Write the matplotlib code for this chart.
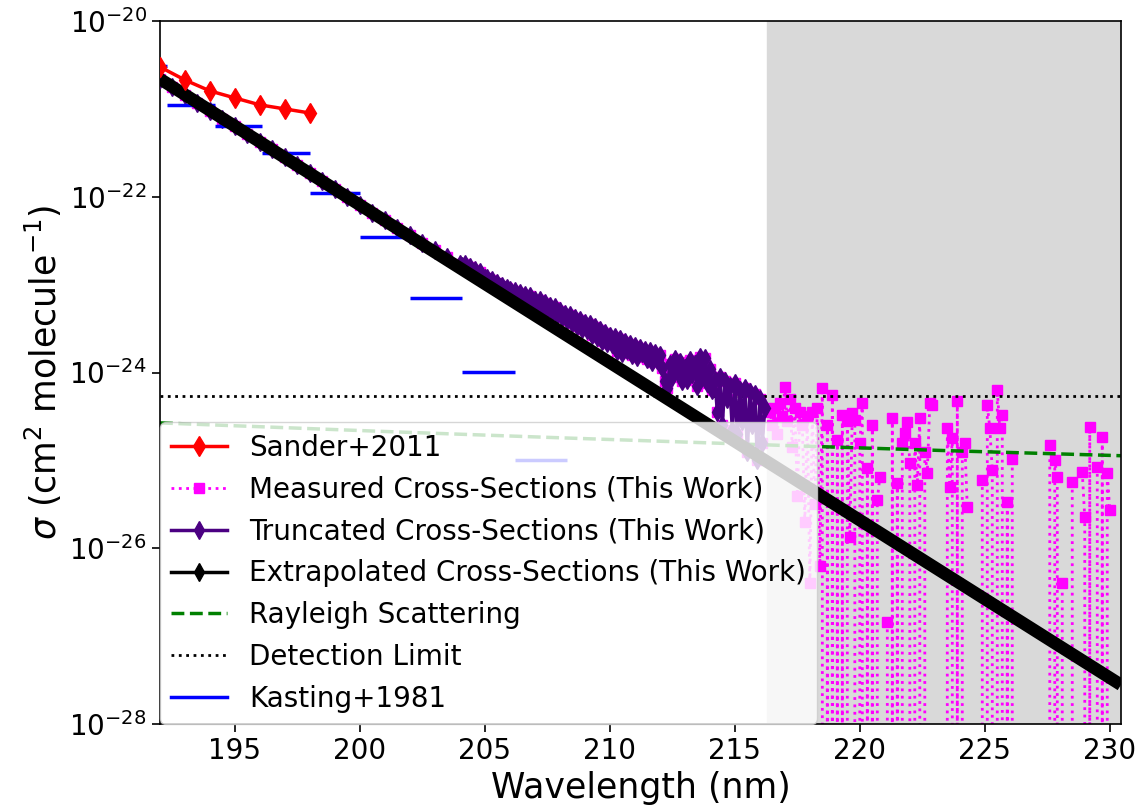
import matplotlib

matplotlib.use("Agg")
import matplotlib.pyplot as plt
import numpy as np
from matplotlib.lines import Line2D

# Sander+2011 recommended values
sander_wl = [192, 193, 194, 195, 196, 197, 198]
sander_val = [3.0e-21, 2.13e-21, 1.6e-21, 1.33e-21, 1.11e-21, 9.98e-22, 8.97e-22]

# Kasting+1981 binned cross-sections (bin edges in nm)
kasting_lo = [190.5, 192.3, 194.2, 196.1, 198.0, 200.0, 202.0, 204.1, 206.2]
kasting_hi = [192.3, 194.2, 196.1, 198.0, 200.0, 202.0, 204.1, 206.2, 208.3]
kasting_val = [3.07e-21, 1.11e-21, 6.38e-22, 3.16e-22, 1.10e-22, 3.49e-23, 7.06e-24, 1.02e-24, 1.01e-25]

# measured cross-sections, log10(sigma); None = non-positive reading, nan = no data
nan = np.nan
meas_wl_a = np.round(np.arange(192.0, 203.51, 0.5), 2)
meas_log_a = [-20.66, -20.75, -20.84, -20.93, -21.02, -21.11, -21.20, -21.29,
              -21.38, -21.46, -21.55, -21.64, -21.73, -21.82, -21.91, -22.00,
              -22.09, -22.18, -22.27, -22.36, -22.44, -22.53, -22.61, -22.69]
meas_wl_b = np.round(np.arange(204.0, 216.21, 0.1), 2)
meas_log_b = [-22.76, -22.79, -22.77, -22.82, -22.80, -22.85, -22.83, -22.88, -22.86, -22.91,
              -22.93, -22.92, -22.97, -22.95, -23.00, -22.98, -23.03, -23.01, -23.06, -23.04,
              -23.06, -23.10, -23.07, -23.13, -23.09, -23.15, -23.12, -23.18, -23.13, -23.20,
              -23.17, -23.22, -23.18, -23.26, -23.21, -23.28, -23.24, -23.31, -23.26, -23.34,
              -23.30, -23.37, -23.33, -23.40, -23.34, -23.44, -23.38, -23.47, -23.40, -23.50,
              -23.44, -23.52, -23.45, -23.57, -23.48, -23.60, -23.52, -23.64, -23.55, -23.66,
              -23.58, -23.68, -23.60, -23.75, -23.62, -23.78, -23.65, -23.74, -23.67, -23.80,
              -23.70, -23.82, -23.72, -23.78, -23.74, -23.85, -23.76, -23.88, -23.78, -23.86,
              -23.80, -23.95, -24.10, -24.18, -23.90, -24.05, -23.85, -23.98, -23.88, -24.10,
              -23.95, -24.08, -23.86, -24.02, -23.90, -24.15, -23.82, -24.05, -23.84, -24.12,
              -23.96, -24.20, -24.08, -24.45, -24.05, -24.60, -24.10, -24.30, -24.15, -24.65,
              -24.12, -24.70, -24.20, -24.55, -24.18, -24.90, -24.22, -24.60, -24.25, -25.00,
              -24.30, -24.80, -24.40]
meas_wl_c = np.round(np.arange(216.4, 230.01, 0.1), 2)
meas_log_c = [-24.45, -24.60, -24.40, -24.70, -24.35, -24.50, -24.17, -24.55, -24.30, -24.85,
              -24.40, -25.40, -24.45, -24.60, -25.70, -24.50, -26.40, -24.45, -25.50, -24.40,
              -26.20, -24.18, None, -24.60, None, -24.26, None, -24.77, None, -24.48,
              None, -24.55, -25.87, -24.46, -24.54, None, -24.80, -24.35, None, -25.09,
              None, -24.60, None, -25.45, -25.19, nan, nan, -26.84, None, -24.52,
              None, -25.26, None, -24.80, -24.69, -24.56, -25.03, None, -24.80, -25.28,
              -24.52, None, -24.90, -25.14, -24.35, -24.37, nan, nan, nan, nan,
              None, -24.63, -25.30, -24.75, None, -24.33, None, -24.90, -24.80, -25.53,
              nan, nan, nan, nan, nan, -25.22, None, -24.37, -24.63, -25.11,
              None, -24.20, -24.63, -24.48, None, -25.47, None, -24.99, nan, nan,
              nan, nan, nan, nan, nan, nan, nan, nan, nan, nan,
              nan, nan, -24.82, None, -25.00, -25.19, None, -26.39, nan, nan,
              nan, -25.25, None, nan, nan, -25.13, -25.65, None, -24.62, None,
              nan, -25.07, None, -24.73, None, -25.14, -25.56]

# extrapolated fit end points
extrap_wl = [192.0, 230.45]
extrap_val = [2.19e-21, 2.79e-28]

# Rayleigh scattering
rayleigh_wl = [192.0, 201.6, 207.7, 216.9, 223.5, 230.45]
rayleigh_val = [2.67e-25, 2.1e-25, 1.82e-25, 1.48e-25, 1.29e-25, 1.13e-25]

detection_limit = 5.47e-25
cutoff = 216.28

meas_wl = np.concatenate([meas_wl_a, meas_wl_b, meas_wl_c])
meas_val = np.array([0.0 if v is None else 10.0 ** v
                     for v in meas_log_a + meas_log_b + meas_log_c])
trunc = meas_wl <= cutoff

fig = plt.figure(figsize=(11.44, 8.08), dpi=100)
ax = fig.add_axes([160 / 1144, 1 - 724 / 808, 961 / 1144, 703 / 808])

ax.axvspan(cutoff, 230.45, color="#d9d9d9", zorder=0)
ax.plot(meas_wl, meas_val, ":", color="magenta", marker="s", ms=7, lw=2, zorder=2)
ax.plot(meas_wl[trunc], meas_val[trunc], "-", color="indigo", marker="d", ms=9, lw=2.5, zorder=3)
ax.hlines(kasting_val, kasting_lo, kasting_hi, color="blue", lw=2.5, zorder=3.5)
ax.plot(extrap_wl, extrap_val, "-", color="black", lw=9, solid_capstyle="butt", zorder=4)
ax.plot(sander_wl, sander_val, "-", color="red", marker="d", ms=10, lw=2.5, zorder=4.5)
ax.plot(rayleigh_wl, rayleigh_val, "--", color="green", lw=2.5, zorder=2.5)
ax.axhline(detection_limit, color="black", ls=":", lw=2, zorder=2.5)

ax.set_yscale("log")
ax.set_xlim(192.0, 230.45)
ax.set_ylim(1e-28, 1e-20)
ax.set_yticks([1e-28, 1e-26, 1e-24, 1e-22, 1e-20])
ax.yaxis.set_minor_locator(matplotlib.ticker.NullLocator())
ax.set_xticks([195, 200, 205, 210, 215, 220, 225, 230])
ax.tick_params(labelsize=20, length=6, width=1.2)
for s in ax.spines.values():
    s.set_linewidth(1.2)
ax.set_xlabel("Wavelength (nm)", fontsize=25)
ax.set_ylabel(r"$\sigma$ (cm$^2$ molecule$^{-1}$)", fontsize=25)

handles = [
    Line2D([], [], color="red", marker="d", ms=10, lw=2.5),
    Line2D([], [], color="magenta", marker="s", ms=7, lw=2, ls=":"),
    Line2D([], [], color="indigo", marker="d", ms=9, lw=2.5),
    Line2D([], [], color="black", marker="d", ms=9, lw=2.5),
    Line2D([], [], color="green", lw=2.5, ls="--"),
    Line2D([], [], color="black", lw=2, ls=":"),
    Line2D([], [], color="blue", lw=2.5),
]
labels = ["Sander+2011", "Measured Cross-Sections (This Work)",
          "Truncated Cross-Sections (This Work)", "Extrapolated Cross-Sections (This Work)",
          "Rayleigh Scattering", "Detection Limit", "Kasting+1981"]
ax.legend(handles, labels, loc="lower left", borderaxespad=0, fontsize=20, framealpha=0.8)

fig.savefig("out.png", dpi=100)
